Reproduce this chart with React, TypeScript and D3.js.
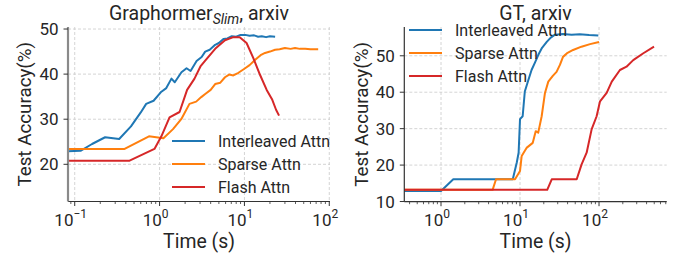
import React, { useRef, useEffect } from 'react';
import * as d3 from 'd3';

// Graphormer_Slim, arxiv
const slimInterleavedTime = [0.083, 0.117, 0.16, 0.228, 0.334, 0.46, 0.6, 0.695, 0.85, 1.05, 1.2, 1.38, 1.51, 1.81, 2.08, 2.32, 2.73, 3.13, 3.45, 3.9, 4.52, 5.0, 5.66, 6.3, 7.1, 8.0, 9.0, 10.2, 11.5, 13, 14.5, 16, 18, 20, 23];
const slimInterleavedAcc = [22.9, 23.0, 24.5, 26.0, 25.6, 28.4, 31.5, 33.4, 34.1, 36.1, 36.9, 39.0, 38.2, 40.4, 41.3, 40.7, 42.9, 43.8, 45.0, 45.4, 46.5, 46.9, 47.8, 47.9, 48.4, 48.3, 48.7, 48.7, 48.5, 48.6, 48.3, 48.4, 48.2, 48.4, 48.3];
const slimSparseTime = [0.083, 0.387, 0.75, 1.11, 1.44, 1.8, 2.25, 2.7, 3.1, 3.45, 4.0, 4.52, 5.2, 5.9, 6.6, 7.4, 8.5, 10.2, 11.5, 13.4, 15.5, 17.5, 20, 23, 26, 30, 35, 39.5, 45, 52, 60, 74];
const slimSparseAcc = [23.4, 23.4, 26.2, 25.8, 27.8, 30.0, 33.4, 33.9, 34.9, 35.6, 36.5, 37.8, 38.1, 39.3, 39.9, 39.7, 40.3, 41.3, 42.0, 43.2, 44.2, 44.7, 45.0, 45.4, 45.5, 45.8, 45.6, 45.8, 45.6, 45.6, 45.5, 45.5];
const slimFlashTime = [0.083, 0.443, 0.87, 1.05, 1.31, 1.72, 2.11, 2.58, 3.03, 3.45, 4.52, 5.9, 7.4, 8.8, 10.6, 12.7, 15.3, 18.3, 21.3, 23.6, 25.6];
const slimFlashAcc = [20.8, 20.8, 23.4, 26.2, 30.4, 31.6, 36.5, 39.0, 41.7, 43.0, 45.6, 47.5, 48.2, 48.2, 46.9, 43.6, 39.8, 36.5, 34.3, 32.1, 30.8];

// GT, arxiv
const gtInterleavedTime = [0.343, 1.0, 1.43, 8.1, 9.1, 9.6, 10.0, 10.8, 11.5, 12.7, 14.0, 15.5, 17.0, 19, 21.8, 24.5, 27.7, 35, 45, 57, 75, 98];
const gtInterleavedAcc = [12.9, 12.9, 16.1, 16.1, 20.7, 23.4, 32.6, 33.4, 40.2, 43.2, 46.1, 48.2, 50.2, 52.2, 53.8, 55.0, 55.8, 56.0, 55.8, 55.9, 55.7, 55.6];
const gtSparseTime = [0.343, 4.5, 4.97, 8.65, 10.0, 10.5, 12.2, 14.5, 15.8, 17.0, 18.8, 20.7, 22.8, 26, 29, 32, 35, 40, 47, 60, 77, 100];
const gtSparseAcc = [13.2, 13.2, 16.1, 16.1, 18.4, 22.5, 24.8, 26.1, 29.3, 28.9, 33.4, 39.8, 42.9, 44.5, 45.6, 47.5, 49.7, 50.8, 51.6, 52.5, 53.2, 53.8];
const gtFlashTime = [0.343, 22.1, 25.2, 52.2, 60.2, 69.7, 80.6, 93.3, 103, 125, 145, 184, 223, 271, 364, 497];
const gtFlashAcc = [13.2, 13.2, 16.1, 16.1, 20.2, 23.4, 29.8, 33.4, 37.5, 39.8, 42.9, 46.1, 47.0, 48.8, 50.7, 52.5];

const seriesNames = ['Interleaved Attn', 'Sparse Attn', 'Flash Attn'];
const seriesColors = ['#1f77b4', '#ff7f0e', '#d62728'];
const slimYTicks = [20, 30, 40, 50];
const gtYTicks = [10, 20, 30, 40, 50];
const slimXTicks = [-1, 0, 1, 2];
const gtXTicks = [0, 1, 2];

const FONT = 'Roboto, sans-serif';
const TXT = '#262626';

const zip = (t: number[], a: number[]) => t.map((v, i) => [v, a[i]] as [number, number]);

const App = () => {
    const ref = useRef<SVGSVGElement>(null);

    useEffect(() => {
        const svg = d3.select(ref.current);
        svg.selectAll('*').remove();

        const panels = [
            {
                box: { x0: 68, x1: 330, y0: 27, y1: 201.5 },
                xDomain: [0.0833, 102], yDomain: [11.75, 50.45],
                xTicks: slimXTicks, yTicks: slimYTicks,
                title: ['Graphormer', 'Slim', ', arxiv'],
                series: [zip(slimInterleavedTime, slimInterleavedAcc), zip(slimSparseTime, slimSparseAcc), zip(slimFlashTime, slimFlashAcc)],
                legend: { x: 172, y: 141 },
                ylabelOff: 44,
                spineColor: '#8a8a8a', spineWidth: 2.2,
            },
            {
                box: { x0: 404.3, x1: 666.7, y0: 27, y1: 201.7 },
                xDomain: [0.343, 719], yDomain: [9.95, 57.9],
                xTicks: gtXTicks, yTicks: gtYTicks,
                title: ['GT, arxiv'],
                series: [zip(gtInterleavedTime, gtInterleavedAcc), zip(gtSparseTime, gtSparseAcc), zip(gtFlashTime, gtFlashAcc)],
                legend: { x: 409, y: 30 },
                ylabelOff: 43,
                spineColor: '#333', spineWidth: 1.2,
            },
        ];

        panels.forEach(p => {
            const { x0, x1, y0, y1 } = p.box;
            const x = d3.scaleLog().domain(p.xDomain).range([x0, x1]);
            const y = d3.scaleLinear().domain(p.yDomain).range([y1, y0]);
            const g = svg.append('g');

            // grid
            p.xTicks.forEach(e => {
                const xv = x(Math.pow(10, e));
                g.append('line').attr('x1', xv).attr('x2', xv).attr('y1', y0).attr('y2', y1)
                    .attr('stroke', '#cfcfcf').attr('stroke-width', 0.9).attr('stroke-dasharray', '3,2');
            });
            p.yTicks.forEach(v => {
                g.append('line').attr('x1', x0).attr('x2', x1).attr('y1', y(v)).attr('y2', y(v))
                    .attr('stroke', '#cfcfcf').attr('stroke-width', 0.9).attr('stroke-dasharray', '3,2');
            });

            // lines
            const line = d3.line<[number, number]>().x(d => x(d[0])).y(d => y(d[1]));
            p.series.forEach((s, i) => {
                g.append('path').datum(s).attr('fill', 'none').attr('stroke', seriesColors[i])
                    .attr('stroke-width', 2).attr('stroke-linejoin', 'round').attr('d', line);
            });

            // spines
            g.append('line').attr('x1', x0).attr('x2', x1).attr('y1', y1).attr('y2', y1)
                .attr('stroke', '#333').attr('stroke-width', 1.2);
            g.append('line').attr('x1', x0).attr('x2', x0).attr('y1', y0).attr('y2', y1)
                .attr('stroke', p.spineColor).attr('stroke-width', p.spineWidth);

            // minor x ticks
            const [d0, d1] = p.xDomain;
            for (let e = Math.floor(Math.log10(d0)); e <= Math.ceil(Math.log10(d1)); e++) {
                for (let m = 2; m <= 9; m++) {
                    const v = m * Math.pow(10, e);
                    if (v < d0 || v > d1) continue;
                    g.append('line').attr('x1', x(v)).attr('x2', x(v)).attr('y1', y1).attr('y2', y1 + 2.5)
                        .attr('stroke', '#333').attr('stroke-width', 0.8);
                }
            }
            // major x ticks + labels
            p.xTicks.forEach(e => {
                const xv = x(Math.pow(10, e));
                g.append('line').attr('x1', xv).attr('x2', xv).attr('y1', y1).attr('y2', y1 + 4.5)
                    .attr('stroke', '#333').attr('stroke-width', 1);
                const t = g.append('text').attr('x', xv - 4).attr('y', y1 + 24).attr('text-anchor', 'middle')
                    .attr('font-family', FONT).attr('font-size', 17).attr('fill', TXT);
                t.append('tspan').text('10');
                t.append('tspan').attr('dy', -8).attr('font-size', 12).text(e < 0 ? '\u2212' + (-e) : String(e));
            });
            // y ticks + labels
            p.yTicks.forEach(v => {
                g.append('line').attr('x1', x0 - 4.5).attr('x2', x0).attr('y1', y(v)).attr('y2', y(v))
                    .attr('stroke', '#333').attr('stroke-width', 1);
                g.append('text').attr('x', x0 - 9.5).attr('y', y(v)).attr('dy', '0.36em').attr('text-anchor', 'end')
                    .attr('font-family', FONT).attr('font-size', 17).attr('fill', TXT).text(v);
            });

            // title
            const cx = (x0 + x1) / 2;
            const tt = g.append('text').attr('x', cx).attr('y', 20).attr('text-anchor', 'middle')
                .attr('font-family', FONT).attr('font-size', 19.5).attr('fill', TXT);
            tt.append('tspan').text(p.title[0]);
            if (p.title.length > 1) {
                tt.append('tspan').attr('dy', 4).attr('font-size', 14).attr('font-style', 'italic').text(p.title[1]);
                tt.append('tspan').attr('dy', -4).text(p.title[2]);
            }

            // axis labels
            g.append('text').attr('x', cx).attr('y', 248).attr('text-anchor', 'middle')
                .attr('font-family', FONT).attr('font-size', 19.4).attr('fill', TXT).text('Time (s)');
            g.append('text').attr('transform', `translate(${x0 - p.ylabelOff},${(y0 + y1) / 2}) rotate(-90)`)
                .attr('text-anchor', 'middle').attr('dy', '0.36em')
                .attr('font-family', FONT).attr('font-size', 18.8).attr('fill', TXT).text('Test Accuracy(%)');

            // legend
            seriesNames.forEach((name, i) => {
                const ly = p.legend.y + i * 23;
                g.append('line').attr('x1', p.legend.x).attr('x2', p.legend.x + 33).attr('y1', ly).attr('y2', ly)
                    .attr('stroke', seriesColors[i]).attr('stroke-width', 2);
                g.append('text').attr('x', p.legend.x + 46).attr('y', ly).attr('dy', '0.36em')
                    .attr('font-family', FONT).attr('font-size', 16).attr('fill', TXT).text(name);
            });
        });
    }, []);

    return (
        <svg ref={ref} width={678} height={257} style={{ position: 'absolute', left: 0, top: 0, background: '#fff' }} />
    );
};

export default App;
